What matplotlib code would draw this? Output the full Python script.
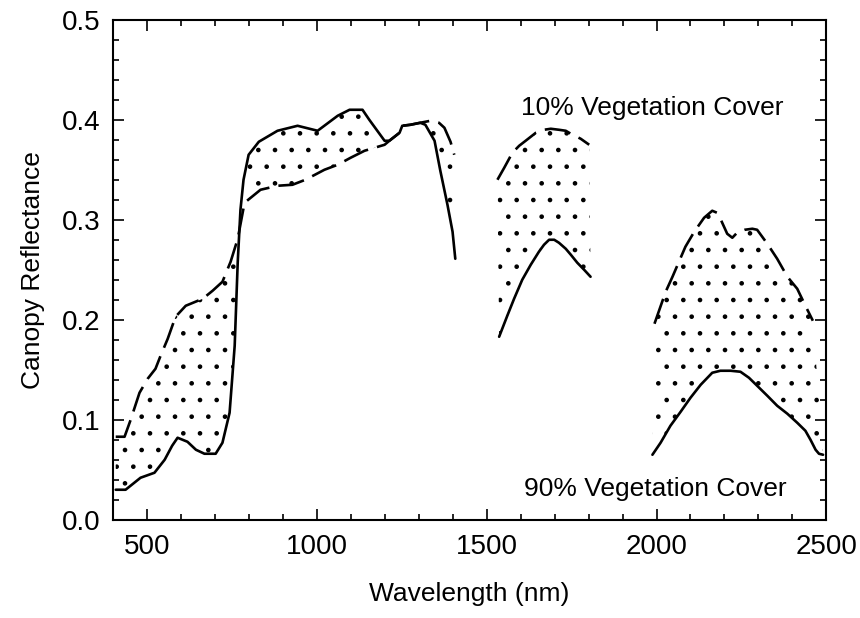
import numpy as np
import matplotlib
matplotlib.use("Agg")
import matplotlib.pyplot as plt
from matplotlib.ticker import MultipleLocator

plt.rcParams['font.family'] = ['Liberation Sans', 'DejaVu Sans']
plt.rcParams['hatch.linewidth'] = 0.9

# Segment 1 (visible / NIR)
s1_solid_wl = [409, 438, 460, 482, 523, 553, 575, 591, 620, 645, 670, 703, 723, 744, 759, 768, 776,
               785, 800, 830, 885, 944, 1003, 1062, 1097, 1135, 1155, 1200, 1214, 1244, 1252, 1276,
               1305, 1320, 1347, 1364, 1385, 1400, 1408]
s1_solid_r = [0.030, 0.030, 0.036, 0.042, 0.047, 0.060, 0.074, 0.082, 0.078, 0.070, 0.066, 0.066,
              0.077, 0.107, 0.174, 0.258, 0.310, 0.340, 0.365, 0.378, 0.389, 0.394, 0.389, 0.404,
              0.410, 0.410, 0.400, 0.379, 0.379, 0.387, 0.394, 0.395, 0.397, 0.395, 0.379, 0.349,
              0.315, 0.288, 0.261]
s1_dash_wl = [409, 435, 453, 479, 503, 526, 541, 562, 585, 615, 665, 694, 723, 747, 768, 788, 835,
              885, 929, 967, 1023, 1062, 1100, 1141, 1200, 1214, 1244, 1252, 1276, 1305, 1335,
              1360, 1376, 1394, 1405]
s1_dash_r = [0.083, 0.083, 0.100, 0.127, 0.141, 0.151, 0.164, 0.181, 0.203, 0.214, 0.221, 0.229,
             0.238, 0.258, 0.281, 0.317, 0.330, 0.334, 0.335, 0.340, 0.350, 0.355, 0.362, 0.369,
             0.375, 0.379, 0.387, 0.394, 0.395, 0.397, 0.399, 0.397, 0.392, 0.378, 0.365]

# Segment 2 (1.6 um window)
s2_solid_wl = [1537, 1561, 1581, 1605, 1630, 1654, 1669, 1684, 1699, 1713, 1733, 1748, 1767, 1787, 1806]
s2_solid_r = [0.183, 0.204, 0.221, 0.240, 0.255, 0.268, 0.275, 0.280, 0.280, 0.277, 0.271, 0.265,
              0.257, 0.250, 0.243]
s2_dash_wl = [1532, 1552, 1576, 1596, 1615, 1645, 1669, 1689, 1713, 1733, 1748, 1777, 1802]
s2_dash_r = [0.340, 0.352, 0.367, 0.374, 0.379, 0.387, 0.390, 0.391, 0.390, 0.389, 0.386, 0.381, 0.375]

# Segment 3 (2.2 um window)
s3_solid_wl = [1988, 2012, 2041, 2071, 2100, 2130, 2164, 2188, 2218, 2247, 2272, 2296, 2326, 2355,
               2385, 2414, 2438, 2453, 2468, 2478, 2490]
s3_solid_r = [0.065, 0.077, 0.094, 0.108, 0.122, 0.135, 0.147, 0.149, 0.149, 0.148, 0.142, 0.134,
              0.124, 0.114, 0.106, 0.097, 0.089, 0.080, 0.070, 0.066, 0.065]
s3_dash_wl = [1994, 2027, 2047, 2085, 2111, 2140, 2164, 2178, 2188, 2208, 2223, 2237, 2260, 2282,
              2296, 2326, 2355, 2385, 2414, 2438, 2460]
s3_dash_r = [0.196, 0.228, 0.243, 0.273, 0.288, 0.302, 0.309, 0.307, 0.301, 0.286, 0.282, 0.287,
             0.290, 0.291, 0.290, 0.276, 0.261, 0.243, 0.231, 0.214, 0.199]

segments = [(s1_solid_wl, s1_solid_r, s1_dash_wl, s1_dash_r),
            (s2_solid_wl, s2_solid_r, s2_dash_wl, s2_dash_r),
            (s3_solid_wl, s3_solid_r, s3_dash_wl, s3_dash_r)]

fig = plt.figure(figsize=(8.6, 6.18), dpi=100)
ax = fig.add_axes([0.131, 0.159, 0.830, 0.809])

for swl, sr, dwl, dr in segments:
    poly_x = list(dwl) + list(swl)[::-1]
    poly_y = list(dr) + list(sr)[::-1]
    ax.fill(poly_x, poly_y, facecolor='none', edgecolor='black', hatch='.', linewidth=0)
    ax.plot(swl, sr, color='black', lw=1.9, solid_joinstyle='round', solid_capstyle='round')
    ax.plot(dwl, dr, color='black', lw=1.9, dashes=(10, 3.5), dash_joinstyle='round')

ax.text(1600, 0.412, '10% Vegetation Cover', fontsize=19, va='center', ha='left')
ax.text(1610, 0.031, '90% Vegetation Cover', fontsize=19, va='center', ha='left')

ax.set_xlim(400, 2500)
ax.set_ylim(0.0, 0.5)
ax.xaxis.set_major_locator(MultipleLocator(500))
ax.xaxis.set_minor_locator(MultipleLocator(100))
ax.set_yticks([0.0, 0.1, 0.2, 0.3, 0.4, 0.5])
ax.set_yticklabels(['0.0', '0.1', '0.2', '0.3', '0.4', '0.5'])
ax.yaxis.set_minor_locator(MultipleLocator(0.02))
ax.tick_params(which='both', direction='in', top=True, right=True, labelsize=20, width=1.2)
ax.tick_params(which='major', length=8)
ax.tick_params(axis='x', which='major', pad=10)
ax.tick_params(axis='y', which='major', pad=9)
ax.tick_params(which='minor', length=4)
for sp in ax.spines.values():
    sp.set_linewidth(1.5)

ax.set_xlabel('Wavelength (nm)', fontsize=19, labelpad=16)
ax.set_ylabel('Canopy Reflectance', fontsize=19, labelpad=12)

fig.savefig('out.png', dpi=100)
